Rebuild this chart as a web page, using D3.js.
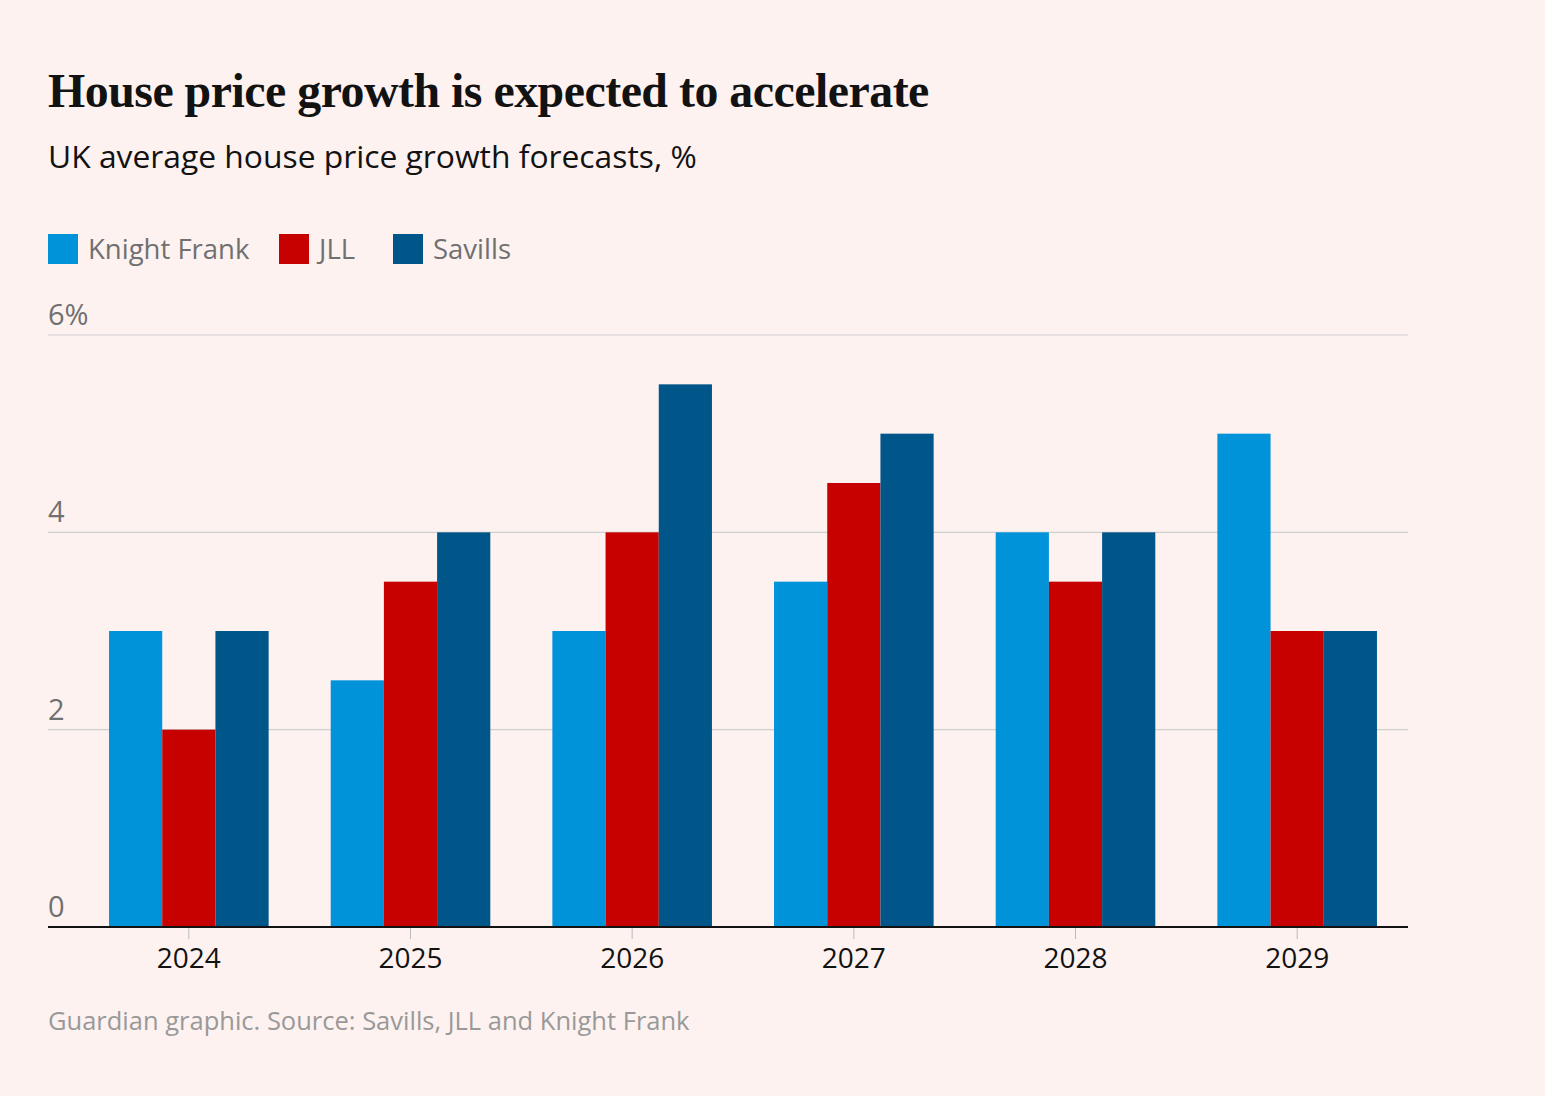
<!DOCTYPE html>
<html><head><meta charset="utf-8">
<script src="https://cdn.jsdelivr.net/npm/d3@7"></script>
<style>
html,body{margin:0;padding:0;background:#fdf2f0;}
svg{display:block;}
</style></head>
<body>
<svg id="chart" width="1545" height="1096"></svg>
<script>
const years = ["2024","2025","2026","2027","2028","2029"];
const seriesNames = ["Knight Frank","JLL","Savills"];
const knightFrank = [3, 2.5, 3, 3.5, 4, 5];
const jll = [2, 3.5, 4, 4.5, 3.5, 3];
const savills = [3, 4, 5.5, 5, 4, 3];
const yTicks = [0, 2, 4, 6];
const colors = ["#0093d9", "#c70000", "#005689"];
const seriesValues = [knightFrank, jll, savills];

const svg = d3.select("#chart");
svg.append("rect").attr("width",1545).attr("height",1096).attr("fill","#fdf2f0");

const sans = "'Open Sans', 'Noto Sans', sans-serif";

function fit(sel, w){
  const n = sel.node();
  const cur = n.getComputedTextLength();
  const fs = parseFloat(sel.attr("font-size"));
  sel.attr("font-size", fs * w / cur);
}

const title = svg.append("text").attr("x",48).attr("y",107)
  .attr("font-family","'Liberation Serif', 'DejaVu Serif', serif").attr("font-weight","bold")
  .attr("font-size",46).attr("fill","#121212").attr("letter-spacing","-0.5")
  .text("House price growth is expected to accelerate");
fit(title, 880);

const sub = svg.append("text").attr("x",48).attr("y",168)
  .attr("font-family",sans).attr("font-size",30).attr("fill","#121212")
  .text("UK average house price growth forecasts, %");
fit(sub, 649);

// legend
const legendX = [48, 279, 393];
const lg = svg.append("g");
seriesNames.forEach((name,i)=>{
  lg.append("rect").attr("x",legendX[i]).attr("y",234).attr("width",30).attr("height",30).attr("fill",colors[i]);
  lg.append("text").attr("x",legendX[i]+40).attr("y",259).attr("font-family",sans)
    .attr("font-size",27.5).attr("fill","#707070").text(name);
});

const x0 = d3.scaleBand().domain(years).range([78,1408]).paddingInner(0.28).paddingOuter(0.14);
const x1 = d3.scaleBand().domain(seriesNames).range([0, x0.bandwidth()]);
const y = d3.scaleLinear().domain([0,6]).range([927,335]);

// gridlines
const grid = svg.append("g");
yTicks.filter(t=>t>0).forEach(t=>{
  grid.append("line").attr("x1",48).attr("x2",1408).attr("y1",y(t)).attr("y2",y(t))
    .attr("stroke","#cfcfcf").attr("stroke-width",1.2);
});
yTicks.forEach(t=>{
  grid.append("text").attr("x",48).attr("y",y(t)-10).attr("font-family",sans)
    .attr("font-size",29).attr("fill","#707070").text(t===6? t+"%" : t);
});

// bars
const bars = svg.append("g");
years.forEach((yr,j)=>{
  seriesNames.forEach((s,i)=>{
    const v = seriesValues[i][j];
    bars.append("rect").attr("x",x0(yr)+x1(s)).attr("width",x1.bandwidth())
      .attr("y",y(v)).attr("height",y(0)-y(v)).attr("fill",colors[i]);
  });
});

// x axis
const xAxis = svg.append("g");
xAxis.append("line").attr("x1",48).attr("x2",1408).attr("y1",927).attr("y2",927)
  .attr("stroke","#121212").attr("stroke-width",2);
years.forEach(yr=>{
  const cx = x0(yr)+x0.bandwidth()/2;
  xAxis.append("line").attr("x1",cx).attr("x2",cx).attr("y1",928).attr("y2",939)
    .attr("stroke","#bbbbbb").attr("stroke-width",1);
  xAxis.append("text").attr("x",cx).attr("y",968).attr("text-anchor","middle")
    .attr("font-family",sans).attr("font-size",28).attr("fill","#121212").text(yr);
});

const src = svg.append("text").attr("x",48).attr("y",1030).attr("font-family",sans)
  .attr("font-size",24).attr("fill","#999999").text("Guardian graphic. Source: Savills, JLL and Knight Frank");
fit(src, 642);
</script>
</body></html>
